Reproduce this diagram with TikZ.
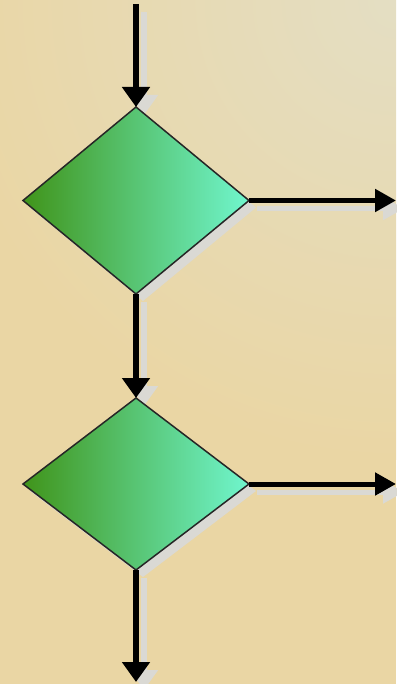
\documentclass[tikz,border=0pt]{standalone}
\usetikzlibrary{shapes.geometric,arrows.meta,shadows,backgrounds}
\definecolor{bgtan}{RGB}{234,214,164}
\definecolor{bglight}{RGB}{228,222,195}
\definecolor{shgray}{RGB}{218,217,212}
\definecolor{gdark}{RGB}{64,148,26}
\definecolor{gmid}{RGB}{86,192,118}
\definecolor{glight}{RGB}{112,246,206}
\tikzset{
  decision/.style={diamond, draw=black!85, line width=1.5pt, inner sep=0pt, outer sep=0pt,
    left color=gdark, middle color=gmid, right color=glight,
    drop shadow={shadow xshift=7pt, shadow yshift=-7pt, fill=shgray, opacity=1}},
  vflow/.style={line width=6pt, -{Triangle[length=20pt,width=27pt]}},
  hflow/.style={line width=5pt, -{Triangle[length=21pt,width=22pt]}},
  shadowflow/.style={draw=shgray, transform canvas={shift={(8pt,-8pt)}}},
}
\begin{document}
\begin{tikzpicture}[x=1pt,y=-1pt]
\useasboundingbox (0,0) rectangle (396,684);
\node[decision, minimum width=226pt, minimum height=187pt] (d1) at (136,200.5) {};
\node[decision, minimum width=226pt, minimum height=172pt] (d2) at (136,484) {};
\coordinate (start) at (136,4);
\coordinate (out1) at (396,200.5);
\coordinate (out2) at (396,484);
\coordinate (end) at (136,682);
\begin{scope}[on background layer]
  \fill[bgtan] (0,0) rectangle (396,684);
  \begin{scope}
    \clip (0,0) rectangle (396,684);
    \shade[inner color=bglight, outer color=bgtan] (396,0) circle (460);
  \end{scope}
  \draw[vflow, shadowflow] (start) -- (d1.north);
  \draw[hflow, shadowflow] (d1.east) -- (out1);
  \draw[vflow, shadowflow] (d1.south) -- (d2.north);
  \draw[hflow, shadowflow] (d2.east) -- (out2);
  \draw[vflow, shadowflow] (d2.south) -- (end);
\end{scope}
\draw[vflow] (start) -- (d1.north);
\draw[hflow] (d1.east) -- (out1);
\draw[vflow] (d1.south) -- (d2.north);
\draw[hflow] (d2.east) -- (out2);
\draw[vflow] (d2.south) -- (end);
\end{tikzpicture}
\end{document}
